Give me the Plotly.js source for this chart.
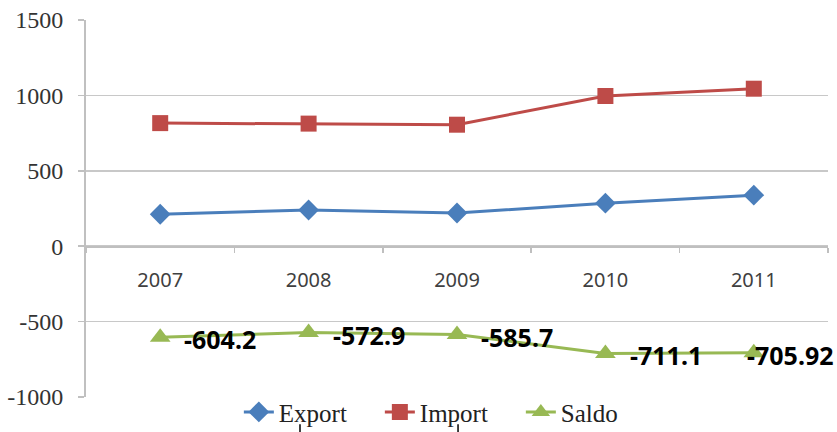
<!DOCTYPE html>
<html>
<head>
<meta charset="utf-8">
<script src="https://cdn.plot.ly/plotly-3.0.1.min.js"></script>
<style>html,body{margin:0;padding:0;background:#fff;}#chart{width:837px;height:432px;}</style>
</head>
<body>
<div id="chart"></div>
<script>
var years = ['2007', '2008', '2009', '2010', '2011'];
var exportVals = [212, 240, 220, 285, 338.5];
var importVals = [816.2, 812.9, 805.7, 996.1, 1044.42];
var saldoVals = [-604.2, -572.9, -585.7, -711.1, -705.92];
var saldoLabels = ['-604.2', '-572.9', '-585.7', '-711.1', '-705.92'];
var yTicks = [-1000, -500, 0, 500, 1000, 1500];
var yTickText = ['-1000', '-500', '0', '500', '1000', '1500'];

var labelShift = [22, 22, 22, 23, -9];

var traces = [
  {x: years, y: exportVals, name: 'Export', type: 'scatter', mode: 'lines+markers',
   line: {color: '#4a7ebb', width: 3}, marker: {symbol: 'diamond', size: 16, color: '#4a7ebb'}},
  {x: years, y: importVals, name: 'Import', type: 'scatter', mode: 'lines+markers',
   line: {color: '#be4b48', width: 3}, marker: {symbol: 'square', size: 16, color: '#be4b48'}},
  {x: years, y: saldoVals, name: 'Saldo', type: 'scatter', mode: 'lines+markers',
   line: {color: '#98b954', width: 3}, marker: {symbol: 'triangle-up', size: 18, color: '#98b954'}}
];

var annotations = [];
for (var i = 0; i < years.length; i++) {
  annotations.push({x: i, y: saldoVals[i], xref: 'x', yref: 'y', text: '<b>' + saldoLabels[i] + '</b>',
    showarrow: false, xanchor: 'left', yanchor: 'middle', xshift: labelShift[i], yshift: -2,
    font: {family: 'Noto Sans', size: 25, color: '#000000'}});
}

var layout = {
  width: 837, height: 432,
  margin: {l: 86, r: 9, t: 20, b: 35, autoexpand: false},
  paper_bgcolor: '#fff', plot_bgcolor: '#fff',
  showlegend: true,
  xaxis: {type: 'category', categoryorder: 'array', categoryarray: years, range: [-0.5, 4.5],
    anchor: 'free', position: 0.4, showline: true, linecolor: '#bfbfbf', linewidth: 1.5,
    ticks: 'outside', tickson: 'boundaries', ticklen: 5, tickcolor: '#bfbfbf', tickwidth: 1.5,
    showgrid: false, zeroline: false, ticklabelstandoff: 15,
    tickfont: {family: 'Noto Sans', size: 20, color: '#404040'}},
  yaxis: {range: [-1000, 1500], tickvals: yTicks, ticktext: yTickText, showline: true, linecolor: '#c0c0c0', linewidth: 2,
    ticks: 'outside', ticklen: 6, tickcolor: '#c0c0c0', tickwidth: 1.5,
    showgrid: true, gridcolor: '#c8c8c8', gridwidth: 1.5, zeroline: false,
    ticklabelstandoff: 10,
    tickfont: {family: 'Liberation Serif', size: 24, color: '#333333'}},
  legend: {orientation: 'h', x: 0.206, xanchor: 'left', yref: 'container', y: 0.046, yanchor: 'middle',
    font: {family: 'Liberation Serif', size: 25, color: '#222222'}, bgcolor: 'rgba(0,0,0,0)',
    itemwidth: 30, tracegroupgap: 0, entrywidth: 96, entrywidthmode: 'pixels'},
  annotations: annotations,
  shapes: [
    {type: 'line', xref: 'paper', yref: 'paper', x0: 0.2884, x1: 0.2884, y0: -0.072, y1: -0.093, line: {color: '#000', width: 1.5}},
    {type: 'line', xref: 'paper', yref: 'paper', x0: 0.5014, x1: 0.5014, y0: -0.072, y1: -0.093, line: {color: '#000', width: 1.5}}
  ]
};

Plotly.newPlot('chart', traces, layout, {displayModeBar: false, staticPlot: true});
</script>
</body>
</html>
